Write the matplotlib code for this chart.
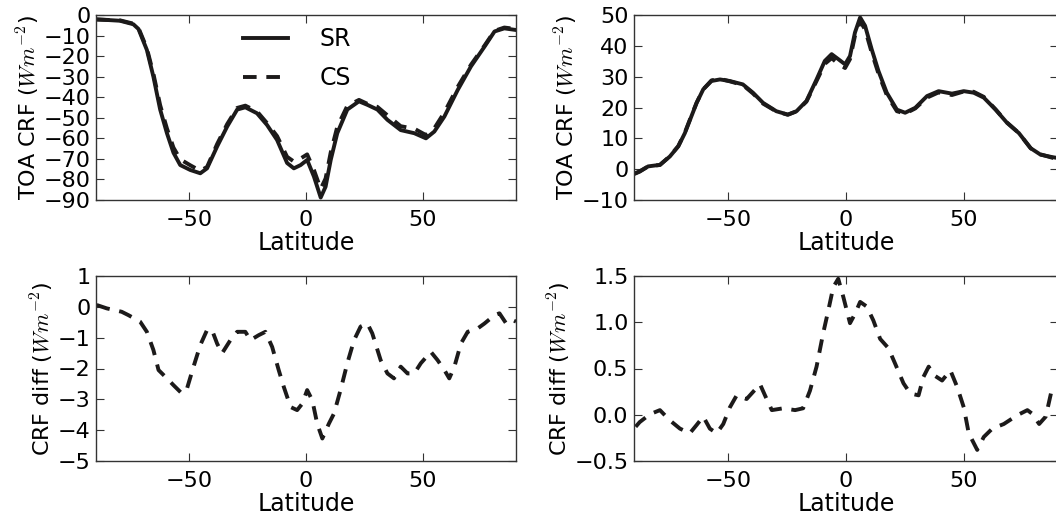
import matplotlib
matplotlib.use("Agg")
import matplotlib.pyplot as plt

plt.rcParams["mathtext.fontset"] = "cm"
plt.rcParams["font.family"] = "DejaVu Sans"

# ---------------- data ---------------- #

# top left: TOA CRF (shortwave-like), SR vs CS
lat_tl = [-90, -79.7, -74, -71.8, -68.2, -65.4, -62.5, -59.6, -56.8, -53.9, -49.6,
          -45.3, -42.4, -38.1, -33.8, -29.5, -26, -21, -16.7, -12.4, -8.1,
          -5.2, -2.3, 0.5, 3.4, 6.3, 8.4, 10.6, 13.4, 17.7, 22.7,
          26.3, 30.6, 34.9, 40.6, 46.4, 51.4, 55, 59.3, 65, 70.7,
          76.5, 80.8, 85, 90]
sr_tl = [-2.1, -2.8, -4.5, -6.8, -17, -30, -46, -57.5, -67, -73, -75.4,
         -77, -74.6, -64, -54.3, -46, -44.9, -47.8, -53.5, -60.8, -72,
         -74.6, -73, -70.5, -78.6, -88.8, -83.5, -70.5, -57.5, -46, -42,
         -43.7, -46, -51, -56, -57.5, -60, -56.7, -49.4, -36.5, -25,
         -15.4, -8, -6.5, -7.3]
cs_tl = [-2.2, -2.6, -4.2, -6.3, -16.2, -28.6, -43.9, -55.2, -64.5, -70.2, -73.1,
         -75.8, -73.9, -62.8, -53.1, -45.2, -44.1, -46.9, -52.6, -58.9, -69,
         -71.3, -69.8, -67.8, -75.4, -84.6, -79.5, -66.8, -54.4, -44.2, -41.3,
         -43.2, -44.7, -48.8, -54.1, -55.3, -58.4, -55.1, -47.4, -35, -24.2,
         -14.9, -7.7, -6.1, -6.8]

# top right: TOA CRF (longwave-like), SR vs CS
lat_tr = [-89.7, -87.6, -84, -79, -74.8, -71.2, -68.4, -65.6, -63.4, -60.6,
          -57.1, -53.5, -49.4, -43.8, -39.5, -35.2, -29.6, -24.7, -21, -16.8,
          -12.5, -9, -6.1, -3.3, -0.4, 1.7, 3.8, 6, 8.1, 10.9,
          13.8, 17.3, 21.6, 25.1, 29.4, 34.4, 39.3, 45, 50, 54.2,
          58.5, 63.5, 68.4, 73.4, 78.4, 82.6, 87.6, 90]
sr_tr = [-1.5, -0.8, 0.9, 1.4, 4.1, 7.4, 11.7, 17.2, 21.5, 25.9,
         28.6, 29.1, 28.6, 27.5, 24.8, 21.5, 18.8, 17.7, 18.8, 22.1,
         29.1, 35.1, 37.3, 35.7, 34, 36.7, 44.3, 49.2, 46.5, 38.9,
         31.8, 24.8, 19.3, 18.3, 19.9, 23.7, 25.3, 24.5, 25.3, 24.8,
         23.2, 19.3, 15, 11.7, 6.8, 4.7, 3.9, 3.6]
cs_tr = [-1.4, -0.7, 0.9, 1.35, 4.2, 7.5, 11.9, 17.4, 21.6, 25.9,
         28.8, 29.3, 28.5, 27.3, 24.55, 21.25, 18.74, 17.64, 18.75, 21.9,
         28.6, 34.15, 36, 34.2, 32.8, 35.7, 43.2, 48, 45.3, 37.85,
         30.95, 24.06, 18.8, 18, 19.7, 23.2, 24.9, 24.05, 25.2, 25.1,
         23.45, 19.4, 15.1, 11.7, 6.77, 4.8, 3.7, 3.3]

# bottom left: CRF difference
lat_bl = [-89.7, -85.4, -79, -76.1, -71.1, -68.2, -65.4, -63.2, -59.6, -56.8,
          -53.2, -51, -48.2, -45.3, -42.4, -40.3, -38.1, -36, -32.4, -29.5,
          -26, -23.8, -20.3, -17.4, -14.5, -11.7, -9.5, -6.6, -3.8, -1.6,
          0.5, 2.7, 4.8, 7, 9.8, 12, 14.8, 17.7, 20.6, 23.4,
          26.3, 28.4, 32, 34.9, 37.7, 40.6, 43.5, 46.4, 49.2, 53.5,
          56.4, 59.3, 61.4, 63.6, 66.4, 69.3, 73.6, 76.5, 80.8, 82.9,
          85.8, 88.6, 90]
diff_bl = [0.06, -0.05, -0.16, -0.27, -0.48, -0.81, -1.4, -2.05, -2.32, -2.54,
           -2.81, -2.65, -1.94, -1.24, -0.75, -0.75, -1.19, -1.51, -1.08, -0.81,
           -0.81, -1.08, -0.92, -0.81, -1.3, -2.05, -2.6, -3.25, -3.35, -3.14,
           -2.7, -3.03, -3.79, -4.27, -3.79, -3.46, -2.7, -1.83, -1.08, -0.64,
           -0.54, -0.86, -1.73, -2.16, -2.32, -1.94, -2.16, -2.16, -1.83, -1.46,
           -1.73, -2.05, -2.32, -1.94, -1.19, -0.81, -0.70, -0.54, -0.27, -0.21,
           -0.54, -0.43, -0.48]

# bottom right: CRF difference
lat_br = [-89.3, -87.6, -83.3, -79, -74.8, -70.5, -66.3, -63.4, -60.6, -57.8,
          -54.9, -52.1, -49.3, -46.4, -42.2, -36.5, -34.4, -31.5, -26.6, -21.6,
          -18.2, -15.3, -12.5, -9.7, -7.5, -5.4, -3.3, -1.1, 1.7, 3.8,
          6, 8.8, 11.6, 14.5, 18, 20.9, 24.4, 27.3, 30.8, 32.9,
          35.1, 37.2, 40.8, 44.3, 47.2, 50, 52.1, 55.7, 58.5, 62.1,
          67, 72.7, 77, 79.1, 82, 84.8, 87, 90]
diff_br = [-0.13, -0.08, 0.005, 0.05, -0.06, -0.15, -0.2, -0.11, -0.02, -0.15,
           -0.2, -0.1, 0.08, 0.21, 0.17, 0.33, 0.21, 0.05, 0.07, 0.05,
           0.07, 0.26, 0.52, 0.88, 1.13, 1.38, 1.47, 1.27, 0.99, 1.09,
           1.22, 1.17, 1.02, 0.82, 0.72, 0.55, 0.34, 0.23, 0.21, 0.41,
           0.52, 0.43, 0.37, 0.48, 0.3, 0.08, -0.2, -0.38, -0.24, -0.15,
           -0.1, -0.005, 0.05, 0.01, -0.1, -0.02, 0.23, 0.3]

# ---------------- plotting ---------------- #

INK = "#1c1a1a"
DASH = (0, (3.5, 2.5))
LW = 2.8

fig = plt.figure(figsize=(10.56, 5.18), dpi=100)
ax_tl = fig.add_axes([96 / 1056, 318 / 518, 420 / 1056, 185 / 518])
ax_tr = fig.add_axes([634 / 1056, 318 / 518, 424 / 1056, 185 / 518])
ax_bl = fig.add_axes([96 / 1056, 57 / 518, 420 / 1056, 185 / 518])
ax_br = fig.add_axes([634 / 1056, 57 / 518, 424 / 1056, 185 / 518])

ax_tl.plot(lat_tl, sr_tl, color=INK, lw=LW, label="SR")
ax_tl.plot(lat_tl, cs_tl, color=INK, lw=LW, linestyle=DASH, label="CS")
ax_tr.plot(lat_tr, sr_tr, color=INK, lw=LW)
ax_tr.plot(lat_tr, cs_tr, color=INK, lw=LW, linestyle=DASH)
ax_bl.plot(lat_bl, diff_bl, color=INK, lw=LW, linestyle=DASH)
ax_br.plot(lat_br, diff_br, color=INK, lw=LW, linestyle=DASH)

ax_tl.set_ylim(-90, 0)
ax_tl.set_yticks(range(-90, 1, 10))
ax_tr.set_ylim(-10, 50)
ax_tr.set_yticks(range(-10, 51, 10))
ax_bl.set_ylim(-5, 1)
ax_bl.set_yticks(range(-5, 2))
ax_br.set_ylim(-0.5, 1.5)
ax_br.set_yticks([-0.5, 0.0, 0.5, 1.0, 1.5])

for ax in (ax_tl, ax_tr, ax_bl, ax_br):
    ax.set_xlim(-90, 90)
    ax.set_xticks([-50, 0, 50])
    ax.set_xlabel("Latitude", fontsize=17, labelpad=1)
    ax.tick_params(direction="in", top=True, right=True, length=6,
                   width=0.8, labelsize=16, color="#333333")
    ax.tick_params(axis="x", pad=7)
    ax.tick_params(axis="y", pad=4)
    for sp in ax.spines.values():
        sp.set_color("#333333")
        sp.set_linewidth(1.0)

for ax in (ax_tl, ax_tr):
    ax.set_ylabel(r"TOA CRF ($Wm^{-2}$)", fontsize=16, labelpad=1)
for ax in (ax_bl, ax_br):
    ax.set_ylabel(r"CRF diff ($Wm^{-2}$)", fontsize=16, labelpad=1)

ax_tl.legend(loc="upper left", bbox_to_anchor=(0.30, 1.05), frameon=False,
             fontsize=17, handlelength=1.9, handletextpad=1.35,
             labelspacing=0.65)

fig.savefig("out.png", dpi=100)
